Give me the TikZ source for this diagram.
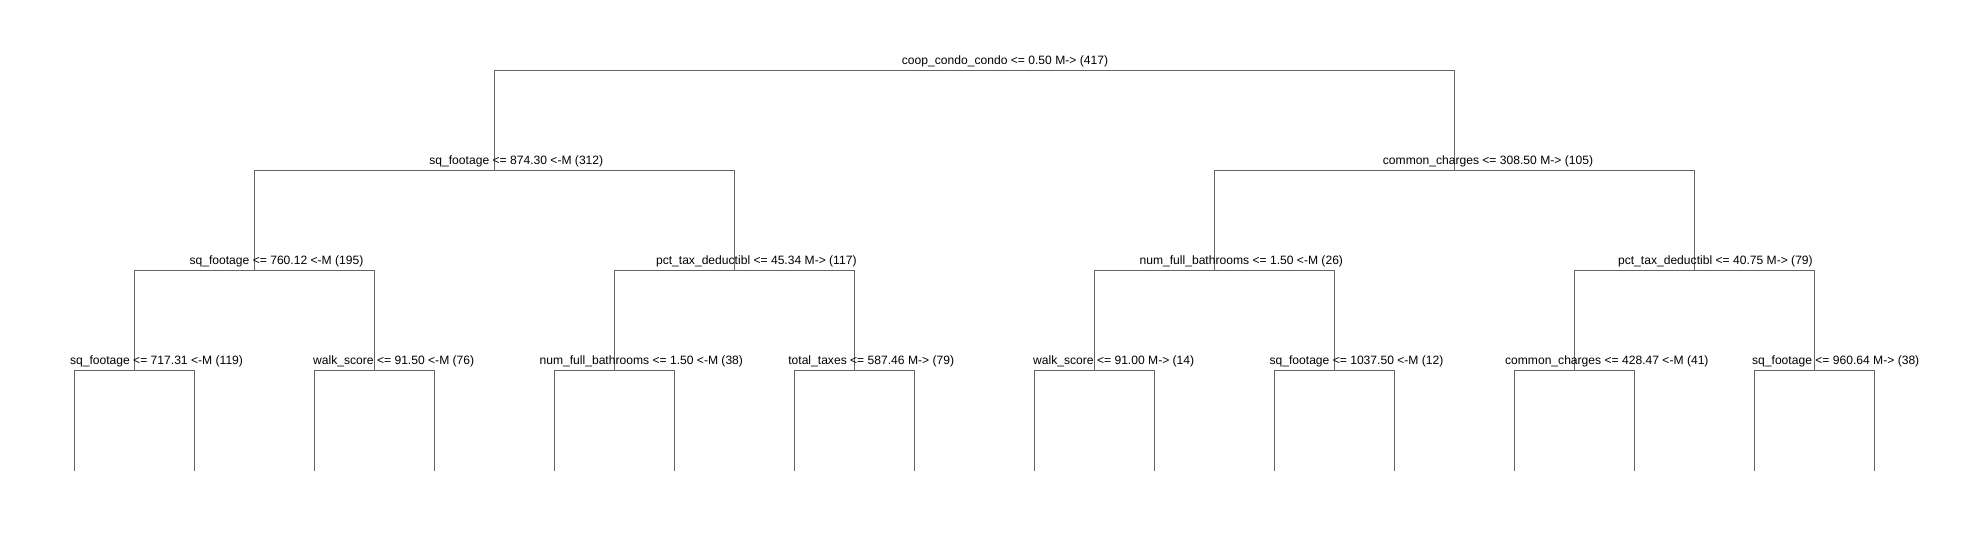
\documentclass[tikz,border=0pt]{standalone}
\usepackage{fontspec}
\setmainfont{Liberation Sans}
\definecolor{edgec}{RGB}{100,100,100}
\begin{document}
\begin{tikzpicture}[x=1pt,y=-1pt,
  edge/.style={draw=edgec,line width=1pt},
  lbl/.style={anchor=base,inner sep=0pt,font=\fontsize{12.1}{14}\selectfont}]
\fill[white] (0,0) rectangle (1987,540);
\useasboundingbox (0,0) rectangle (1987,540);
% tree node positions
\coordinate (r) at (974.3,70.3);
\coordinate (a0) at (494.3,170.3);
\coordinate (a1) at (1454.3,170.3);
\foreach \k in {0,...,3} \coordinate (b\k) at ({254.3+480*\k},270.3);
\foreach \j in {0,...,7} \coordinate (c\j) at ({134.3+240*\j},370.3);
\foreach \i in {0,...,15} \coordinate (f\i) at ({74.3+120*\i},470.7);
% connectors
\draw[edge] (a0) |- (r) -| (a1);
\draw[edge] (b0) |- (a0) -| (b1);
\draw[edge] (b2) |- (a1) -| (b3);
\draw[edge] (c0) |- (b0) -| (c1);
\draw[edge] (c2) |- (b1) -| (c3);
\draw[edge] (c4) |- (b2) -| (c5);
\draw[edge] (c6) |- (b3) -| (c7);
\draw[edge] (f0) |- (c0) -| (f1);
\draw[edge] (f2) |- (c1) -| (f3);
\draw[edge] (f4) |- (c2) -| (f5);
\draw[edge] (f6) |- (c3) -| (f7);
\draw[edge] (f8) |- (c4) -| (f9);
\draw[edge] (f10) |- (c5) -| (f11);
\draw[edge] (f12) |- (c6) -| (f13);
\draw[edge] (f14) |- (c7) -| (f15);
% labels
\node[lbl] (tr) at (1005,64.3) {coop\_condo\_condo <= 0.50 M-> (417)};
\node[lbl] (ta0) at (516.3,164.3) {sq\_footage <= 874.30 <-M (312)};
\node[lbl] (ta1) at (1488,164.3) {common\_charges <= 308.50 M-> (105)};
\node[lbl] (tb0) at (276.5,264.3) {sq\_footage <= 760.12 <-M (195)};
\node[lbl] (tb1) at (756.3,264.3) {pct\_tax\_deductibl <= 45.34 M-> (117)};
\node[lbl] (tb2) at (1241.3,264.3) {num\_full\_bathrooms <= 1.50 <-M (26)};
\node[lbl] (tb3) at (1715.4,264.3) {pct\_tax\_deductibl <= 40.75 M-> (79)};
\node[lbl] (tc0) at (156.5,364.3) {sq\_footage <= 717.31 <-M (119)};
\node[lbl] (tc1) at (393.7,364.3) {walk\_score <= 91.50 <-M (76)};
\node[lbl] (tc2) at (641.3,364.3) {num\_full\_bathrooms <= 1.50 <-M (38)};
\node[lbl] (tc3) at (871.2,364.3) {total\_taxes <= 587.46 M-> (79)};
\node[lbl] (tc4) at (1113.7,364.3) {walk\_score <= 91.00 M-> (14)};
\node[lbl] (tc5) at (1356.5,364.3) {sq\_footage <= 1037.50 <-M (12)};
\node[lbl] (tc6) at (1606.8,364.3) {common\_charges <= 428.47 <-M (41)};
\node[lbl] (tc7) at (1835.7,364.3) {sq\_footage <= 960.64 M-> (38)};
\end{tikzpicture}
\end{document}
